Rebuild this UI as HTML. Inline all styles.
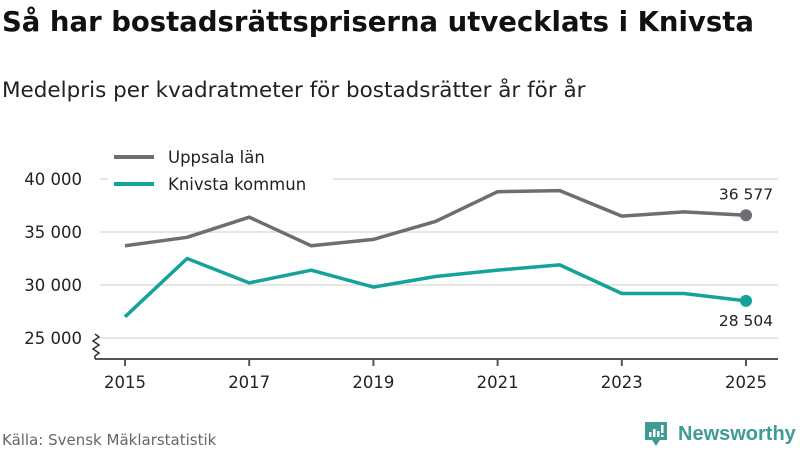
<!DOCTYPE html>
<html><head><meta charset="utf-8"><style>
body{margin:0;background:#fff;width:800px;height:450px;overflow:hidden;font-family:"DejaVu Sans","Liberation Sans",sans-serif;}
</style></head><body>
<svg width="800" height="450" xmlns="http://www.w3.org/2000/svg">
<text x="2" y="31" font-size="27.5" font-weight="bold" fill="#111">Så har bostadsrättspriserna utvecklats i Knivsta</text>
<text x="2" y="97" font-size="21.5" fill="#222">Medelpris per kvadratmeter för bostadsrätter år för år</text>
<g id="grid"></g>
<g id="axes"></g>
<g id="lines"></g>
<g>
<rect x="108" y="146" width="225" height="52" fill="#fff"/>
<line x1="114" y1="157" x2="154" y2="157" stroke="#6e6d73" stroke-width="4"/>
<text x="168" y="163" font-size="16.5" fill="#222">Uppsala län</text>
<line x1="114" y1="184" x2="154" y2="184" stroke="#14a39a" stroke-width="4"/>
<text x="168" y="190" font-size="16.5" fill="#222">Knivsta kommun</text>
</g>
<text x="2" y="445" font-size="15" fill="#666">Källa: Svensk Mäklarstatistik</text>
<g>
<path d="M645 422 h22 v18 h-7 l-4 6 l-4 -6 h-7 z" fill="#3e9c94"/>
<rect x="649" y="432" width="2.5" height="5" fill="#fff"/><rect x="653" y="429" width="2.5" height="8" fill="#fff"/><rect x="657" y="431" width="2.5" height="6" fill="#fff"/><rect x="661" y="425" width="2.5" height="8" fill="#fff"/><rect x="661" y="435" width="2.5" height="2" fill="#fff"/>
<text x="678" y="440" font-size="20" font-weight="bold" fill="#3e9c94" font-family="Liberation Sans, sans-serif">Newsworthy</text>
</g>
</svg>
<script>
const years=[2015,2016,2017,2018,2019,2020,2021,2022,2023,2024,2025];
const uppsala=[33700,34500,36400,33700,34300,36000,38800,38900,36500,36900,36577];
const knivsta=[27000,32500,30200,31400,29800,30800,31400,31900,29200,29200,28504];
const yTicks=[25000,30000,35000,40000];
const xTicks=[2015,2017,2019,2021,2023,2025];
const NS="http://www.w3.org/2000/svg";
const x=v=>125+(v-2015)*62.1;
const y=v=>179+(40000-v)*53/5000;
const fmt=v=>String(v).replace(/\B(?=(\d{3})+(?!\d))/g," ");
function mk(tag,attrs,parent,txt){const e=document.createElementNS(NS,tag);for(const k in attrs)e.setAttribute(k,attrs[k]);if(txt!==undefined)e.textContent=txt;document.getElementById(parent).appendChild(e);return e;}
yTicks.forEach(t=>{
 const g=mk("line",{x1:100,x2:778,y1:y(t),y2:y(t),stroke:"#ddd","stroke-width":1.5},"grid");
 
 
 const l=mk("text",{x:82,y:y(t)+6,"font-size":16.5,fill:"#222","text-anchor":"end"},"grid",fmt(t));
 
 
});
const ax=mk("line",{x1:95,x2:778,y1:359,y2:359,stroke:"#555","stroke-width":2},"axes");


const zz=mk("path",{d:"M95 334 l4 3 l-6 4 l6 4 l-6 4 l6 4 l-4 3 v3",stroke:"#333","stroke-width":1.5,fill:"none"},"axes");


xTicks.forEach(t=>{
 const tk=mk("line",{x1:x(t),x2:x(t),y1:359,y2:366,stroke:"#555","stroke-width":2},"axes");
 
 
 const l=mk("text",{x:x(t),y:388,"font-size":16.5,fill:"#222","text-anchor":"middle"},"axes",t);
 
 
});
function series(vals,color,name,labelDy){
 const p=mk("path",{d:vals.map((v,i)=>(i?"L":"M")+x(years[i])+" "+y(v)).join(" "),stroke:color,"stroke-width":3.5,fill:"none","stroke-linejoin":"round"},"lines");
 
 
 const last=vals.length-1;
 const c=mk("circle",{cx:x(years[last]),cy:y(vals[last]),r:6,fill:color},"lines");
 
 
 const t=mk("text",{x:x(years[last]),y:y(vals[last])+labelDy,"font-size":15.5,fill:"#222","text-anchor":"middle"},"lines",fmt(vals[last]));
 
 
}
series(uppsala,"#6e6d73","uppsala",-16);
series(knivsta,"#14a39a","knivsta",25);
</script>
</body></html>
